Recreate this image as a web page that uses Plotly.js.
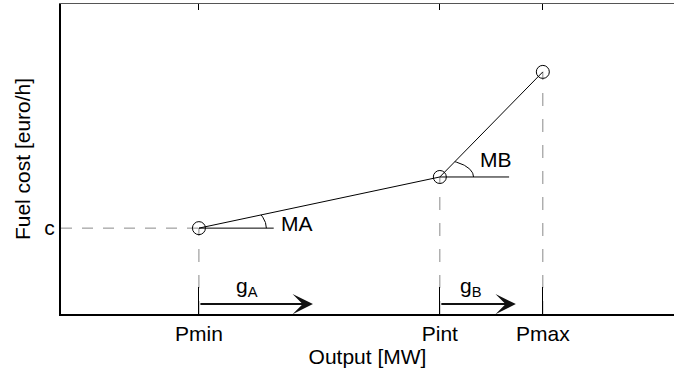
<!DOCTYPE html>
<html>
<head>
<meta charset="utf-8">
<script src="https://cdn.plot.ly/plotly-3.0.1.min.js"></script>
<style>html,body{margin:0;padding:0;background:#fff;}</style>
</head>
<body>
<div id="chart" style="width:674px;height:374px;"></div>
<script>
// ---- data ----
const xRange = [0, 10];
const yRange = [0, 10];
const pointNames = ['Pmin', 'Pint', 'Pmax'];
const pointX = [2.25, 6.18, 7.86];
const pointY = [2.77, 4.42, 7.81];
const costLabel = 'c';
const refLineLen = [1.22, 1.13];
const arcRadius = [1.1, 0.55];
const angleLabels = ['MA', 'MB'];
const angleLabelX = [3.85, 7.1];
const angleLabelY = [2.92, 5.0];
const rampLabels = ['g<sub>A</sub>', 'g<sub>B</sub>'];
const rampLen = [1.86, 1.24];
const rampArrowY = 0.32;
const rampLabelX = [3.03, 6.69];
const rampLabelY = 0.87;

const FONT = 'Liberation Sans, Arial, sans-serif';
const traces = [];

// guide dashed lines
traces.push({x: [xRange[0], pointX[0]], y: [pointY[0], pointY[0]], mode: 'lines',
  line: {color: '#8a8a8a', width: 1, dash: '11px,10px'}, hoverinfo: 'skip'});
for (let i = 0; i < pointX.length; i++) {
  traces.push({x: [pointX[i], pointX[i]], y: [yRange[0], pointY[i]], mode: 'lines',
    line: {color: '#8a8a8a', width: 1, dash: '13px,13px'}, hoverinfo: 'skip'});
}
// horizontal reference lines at the angle vertices
for (let i = 0; i < refLineLen.length; i++) {
  traces.push({x: [pointX[i], pointX[i] + refLineLen[i]], y: [pointY[i], pointY[i]], mode: 'lines',
    line: {color: '#000', width: 1}, hoverinfo: 'skip'});
}
// angle arcs
for (let i = 0; i < arcRadius.length; i++) {
  const ang = Math.atan2(pointY[i + 1] - pointY[i], pointX[i + 1] - pointX[i]);
  const ax = [], ay = [];
  for (let k = 0; k <= 40; k++) {
    const t = ang * k / 40;
    ax.push(pointX[i] + arcRadius[i] * Math.cos(t));
    ay.push(pointY[i] + arcRadius[i] * Math.sin(t));
  }
  traces.push({x: ax, y: ay, mode: 'lines', line: {color: '#000', width: 1}, hoverinfo: 'skip'});
}
// cost curve
traces.push({x: pointX, y: pointY, mode: 'lines+markers',
  line: {color: '#000', width: 1},
  marker: {symbol: 'circle-open', size: 13, color: '#000', line: {width: 1, color: '#000'}},
  hoverinfo: 'skip'});
// dummy trace for top axis
traces.push({x: [pointX[0]], y: [pointY[0]], xaxis: 'x2', mode: 'markers',
  marker: {opacity: 0}, hoverinfo: 'skip'});

const annotations = [];
for (let i = 0; i < angleLabels.length; i++) {
  annotations.push({x: angleLabelX[i], y: angleLabelY[i], xref: 'x', yref: 'y',
    text: angleLabels[i], showarrow: false, font: {family: FONT, size: 21, color: '#000'}});
}
for (let i = 0; i < rampLabels.length; i++) {
  annotations.push({x: pointX[i] + rampLen[i], y: rampArrowY, ax: pointX[i], ay: rampArrowY,
    xref: 'x', yref: 'y', axref: 'x', ayref: 'y', text: '', showarrow: true,
    arrowhead: 3, arrowsize: 1.7, arrowwidth: 2, arrowcolor: '#111'});
  annotations.push({x: rampLabelX[i], y: rampLabelY, xref: 'x', yref: 'y',
    text: rampLabels[i], showarrow: false, font: {family: FONT, size: 21, color: '#000'}});
}

const layout = {
  width: 674, height: 374,
  margin: {l: 61, r: 0, t: 4, b: 60},
  paper_bgcolor: '#fff', plot_bgcolor: '#fff',
  showlegend: false,
  font: {family: FONT, size: 21, color: '#000'},
  xaxis: {range: xRange, tickvals: pointX, ticktext: pointNames,
    showgrid: false, zeroline: false, showline: true, linecolor: '#000', linewidth: 2,
    ticks: 'inside', ticklen: 27, tickwidth: 1, tickcolor: '#000',
    tickfont: {family: FONT, size: 21, color: '#000'},
    title: {text: 'Output [MW]', font: {family: FONT, size: 21, color: '#000'}, standoff: 4}},
  xaxis2: {range: xRange, overlaying: 'x', side: 'top', tickvals: pointX, showticklabels: false,
    showgrid: false, zeroline: false, showline: true, linecolor: '#555', linewidth: 1,
    ticks: 'inside', ticklen: 6, tickwidth: 1, tickcolor: '#000'},
  yaxis: {range: yRange, tickvals: [pointY[0]], ticktext: [costLabel],
    showgrid: false, zeroline: false, showline: true, linecolor: '#000', linewidth: 2,
    ticks: '', tickfont: {family: FONT, size: 21, color: '#000'},
    title: {text: 'Fuel cost [euro/h]', font: {family: FONT, size: 21, color: '#000'}, standoff: 8}},
  annotations: annotations
};

Plotly.newPlot('chart', traces, layout, {displayModeBar: false, staticPlot: true});
</script>
</body>
</html>
